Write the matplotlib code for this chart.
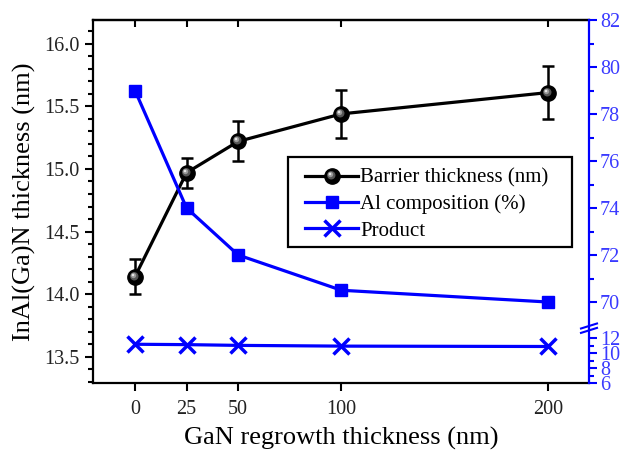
import numpy as np
import matplotlib
matplotlib.use("Agg")
import matplotlib.pyplot as plt
from matplotlib.markers import MarkerStyle
from matplotlib.transforms import Affine2D
from matplotlib.legend_handler import HandlerTuple
from matplotlib.lines import Line2D
from matplotlib.patches import Rectangle

plt.rcParams['font.family'] = ['Liberation Serif', 'DejaVu Serif']

# data
regrowth_nm = [0, 25, 50, 100, 200]
barrier_nm = [14.14, 14.97, 15.22, 15.44, 15.61]
barrier_err = [0.14, 0.12, 0.16, 0.19, 0.21]
al_comp = [79.0, 74.0, 72.0, 70.5, 70.0]
product = [11.2, 11.15, 11.05, 10.95, 10.9]
x_ticks = [0, 25, 50, 100, 200]

BLUE = '#0000ff'
LABEL_BLUE = '#3a3aff'
TICK_FS = 14.5
W, H = 622, 451

fig = plt.figure(figsize=(W / 100, H / 100), dpi=100)
ax = fig.add_axes([93/W, 1 - 383/H, (589-93)/W, (383-20)/H])

# barrier thickness with sphere-like markers
ax.errorbar(regrowth_nm, barrier_nm, yerr=barrier_err, color='black', lw=2.3,
            marker='o', ms=11, mfc='black', mec='black', elinewidth=1.8,
            capsize=4, capthick=1.8, zorder=3)
hl_styles = [
    (MarkerStyle('o', transform=Affine2D().scale(0.55).translate(-0.08, 0.08)), '#555555'),
    (MarkerStyle('o', transform=Affine2D().scale(0.35).translate(-0.13, 0.13)), '#9a9a9a'),
    (MarkerStyle('o', transform=Affine2D().scale(0.16).translate(-0.16, 0.16)), '#e8e8e8'),
]
for m, c in hl_styles:
    ax.plot(regrowth_nm, barrier_nm, ls='none', marker=m, ms=11,
            mfc=c, mec='none', zorder=4)

ax.set_xlim(-20.35, 220.0)
ax.set_ylim(13.29, 16.19)
ax.set_xticks(x_ticks)
ax.set_yticks([13.5, 14.0, 14.5, 15.0, 15.5, 16.0])
ax.set_yticks(np.arange(13.3, 16.2, 0.1), minor=True)
ax.yaxis.set_major_formatter(matplotlib.ticker.FormatStrFormatter('%.1f'))
ax.tick_params(axis='y', which='major', direction='out', length=6, width=1.5,
               labelsize=TICK_FS, labelcolor='#222222')
ax.tick_params(axis='y', which='minor', direction='out', length=3.5, width=1.5)
ax.tick_params(axis='x', which='major', direction='out', length=6, width=1.5,
               labelsize=TICK_FS, labelcolor='#222222', pad=6)
for s in ['left', 'bottom', 'top']:
    ax.spines[s].set_linewidth(1.6)
ax.spines['right'].set_visible(False)

# inward ticks on the top edge
top = ax.secondary_xaxis('top')
top.set_xticks(x_ticks)
top.tick_params(direction='in', length=5, width=1.5, labeltop=False)
top.spines['top'].set_linewidth(1.6)

ax.set_xlabel('GaN regrowth thickness (nm)', fontsize=19, labelpad=6)
ax.set_ylabel('InAl(Ga)N thickness (nm)', fontsize=19, labelpad=6)

# right axis with a break between the product range and the composition range
ax2 = ax.twinx()
knot_v = [6.0, 13.0, 69.0, 82.0]
knot_h = [0.0, 52.15, 57.5, 363.0]

def fwd(v):
    return np.interp(v, knot_v, knot_h)

def inv(h):
    return np.interp(h, knot_h, knot_v)

ax2.set_yscale('function', functions=(fwd, inv))
ax2.set_ylim(6, 82)
ax2.set_yticks([6, 8, 10, 12, 70, 72, 74, 76, 78, 80, 82])
ax2.set_yticks([7, 9, 11, 71, 73, 75, 77, 79, 81], minor=True)
ax2.yaxis.set_major_formatter(matplotlib.ticker.FormatStrFormatter('%d'))
ax2.yaxis.set_minor_formatter(matplotlib.ticker.NullFormatter())
ax2.tick_params(axis='y', which='major', direction='out', length=6, width=1.5,
                color=BLUE, labelcolor=LABEL_BLUE, labelsize=TICK_FS, pad=2)
ax2.tick_params(axis='y', which='minor', direction='out', length=3.5, width=1.5,
                color=BLUE)
for s in ['left', 'bottom', 'top']:
    ax2.spines[s].set_visible(False)
ax2.spines['right'].set_color(BLUE)
ax2.spines['right'].set_linewidth(1.6)

al_line, = ax2.plot(regrowth_nm, al_comp, color=BLUE, lw=2.3, marker='s',
                    ms=8.5, mfc=BLUE, mec=BLUE, zorder=3)
prod_line, = ax2.plot(regrowth_nm, product, color=BLUE, lw=2.3, marker='x',
                      ms=11, mew=2.5, zorder=3)

# axis break marks
hb = 54.8 / 363.0
px_x = 1.0 / 496.0
px_y = 1.0 / 363.0
for dy in (-2.2, 2.2):
    ax2.plot([1 - 8 * px_x, 1 + 8 * px_x],
             [hb + (dy - 2.5) * px_y, hb + (dy + 2.5) * px_y],
             transform=ax2.transAxes, color=BLUE, lw=1.5, clip_on=False,
             zorder=5)

# legend: white box with a black frame, entries placed inside it
box = Rectangle((288 / W, 1 - 247 / H), (572 - 288) / W, (247 - 157) / H,
                transform=fig.transFigure, facecolor='white', edgecolor='black',
                linewidth=1.6, zorder=9, clip_on=False)
ax2.add_patch(box)

bar_handle = Line2D([], [], color='black', lw=2.3, marker='o', ms=11,
                    mfc='black', mec='black')
hl_handles = [Line2D([], [], ls='none', marker=m, ms=11, mfc=c, mec='none')
              for m, c in hl_styles]
leg = ax2.legend([tuple([bar_handle] + hl_handles), al_line, prod_line],
                 ['Barrier thickness (nm)', 'Al composition (%)', 'Product'],
                 handler_map={tuple: HandlerTuple(ndivide=1, pad=0)},
                 loc='center left', bbox_to_anchor=(305 / W, 1 - 204.5 / H),
                 bbox_transform=fig.transFigure,
                 borderaxespad=0, borderpad=0, fontsize=15, frameon=False,
                 handlelength=2.55, handletextpad=0.1, labelspacing=0.32)
leg.set_zorder(10)

fig.savefig('out.png', dpi=100)
